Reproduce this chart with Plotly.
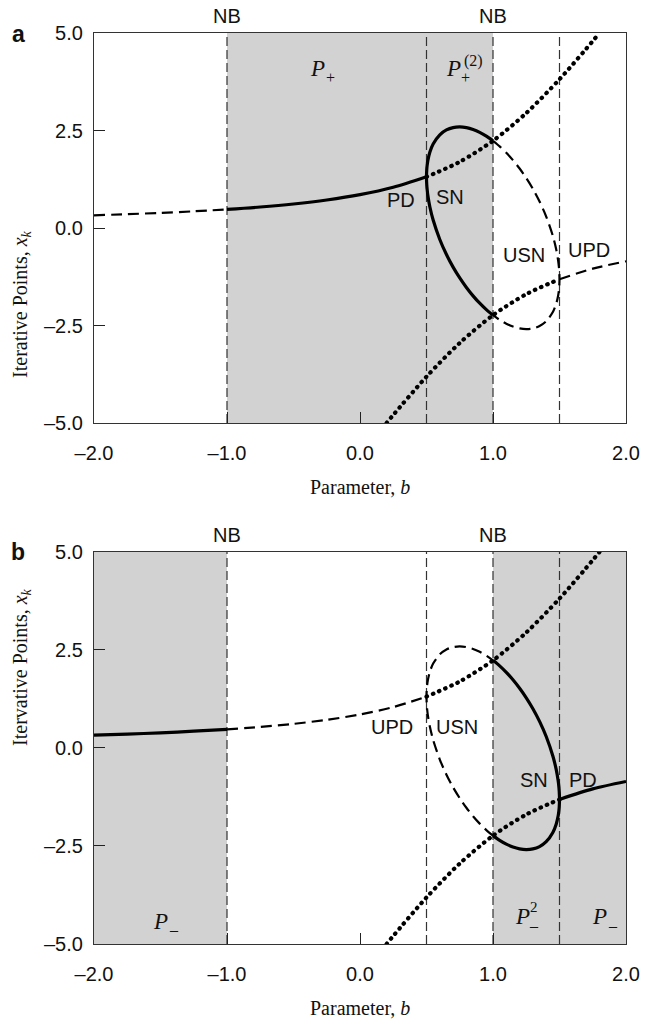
import plotly.graph_objects as go

# ---------------- data ----------------
# upper fixed-point branch
b_upper = [-2.0, -1.75, -1.5, -1.25, -1.0, -0.75, -0.5, -0.25, 0.0, 0.25, 0.5,
           0.75, 1.0, 1.25, 1.5, 1.75, 1.8]
x_upper = [0.326, 0.354, 0.388, 0.428, 0.477, 0.538, 0.616, 0.718, 0.854, 1.043, 1.312,
           1.697, 2.236, 2.947, 3.812, 4.793, 5.0]
# lower fixed-point branch
b_lower = [0.2, 0.25, 0.5, 0.75, 1.0, 1.25, 1.5, 1.75, 2.0]
x_lower = [-5.0, -4.793, -3.812, -2.947, -2.236, -1.697, -1.312, -1.043, -0.854]
# period-2 orbit, left half (b from 1 down to 0.5 and back)
b_orbit_left = [1.0, 0.95, 0.9, 0.85, 0.8, 0.75, 0.7, 0.65, 0.6, 0.55, 0.525, 0.51, 0.505, 0.502, 0.5,
                0.502, 0.505, 0.51, 0.525, 0.55, 0.6, 0.65, 0.7, 0.75, 0.8, 0.85, 0.9, 0.95, 1.0]
x_orbit_left = [-2.236, -2.094, -1.929, -1.740, -1.525, -1.281, -1.003, -0.680, -0.294, 0.204, 0.546, 0.839, 0.982, 1.105, 1.31,
                1.505, 1.612, 1.729, 1.943, 2.154, 2.390, 2.514, 2.575, 2.591, 2.573, 2.526, 2.453, 2.356, 2.236]
# period-2 orbit, right half
b_orbit_right = [1.0, 1.05, 1.1, 1.15, 1.2, 1.25, 1.3, 1.35, 1.4, 1.45, 1.475, 1.49, 1.495, 1.498, 1.5,
                 1.498, 1.495, 1.49, 1.475, 1.45, 1.4, 1.35, 1.3, 1.25, 1.2, 1.15, 1.1, 1.05, 1.0]
x_orbit_right = [2.236, 2.094, 1.929, 1.740, 1.525, 1.281, 1.003, 0.680, 0.294, -0.204, -0.546, -0.839, -0.982, -1.105, -1.31,
                 -1.505, -1.612, -1.729, -1.943, -2.154, -2.390, -2.514, -2.575, -2.591, -2.573, -2.526, -2.453, -2.356, -2.236]

bifurcation_b = [-1.0, 0.5, 1.0, 1.5]
nb_b = [-1.0, 1.0]
shaded_a = [(-1.0, 1.0)]
shaded_b = [(-2.0, -1.0), (1.0, 2.0)]
x_ticks = [-2.0, -1.0, 0.0, 1.0, 2.0]
y_ticks = [-5.0, -2.5, 0.0, 2.5, 5.0]

# ---------------- styles ----------------
SANS = "Liberation Sans, Arial, sans-serif"
SERIF = "Liberation Serif, Times New Roman, serif"
STY = {
    "solid": dict(color="black", width=3.2),
    "dash": dict(color="black", width=2.2, dash="11px,6px"),
    "dot": dict(color="black", width=4.2, dash="0.5px,6.2px"),
}


def seg(bs, xs, lo, hi):
    pts = [(b, x) for b, x in zip(bs, xs) if lo - 1e-9 <= b <= hi + 1e-9]
    return [p[0] for p in pts], [p[1] for p in pts]


fig = go.Figure()


def add(bs, xs, style, row):
    xa = "x" if row == 1 else "x2"
    ya = "y" if row == 1 else "y2"
    fig.add_trace(go.Scatter(x=bs, y=xs, mode="lines", line=dict(**STY[style], shape="spline", smoothing=0.8),
                             xaxis=xa, yaxis=ya, showlegend=False, hoverinfo="skip"))


# panel a
add(*seg(b_upper, x_upper, -2.0, -1.0), "dash", 1)
add(*seg(b_upper, x_upper, -1.0, 0.5), "solid", 1)
add(*seg(b_upper, x_upper, 0.5, 1.8), "dot", 1)
add(*seg(b_lower, x_lower, 0.2, 1.5), "dot", 1)
add(*seg(b_lower, x_lower, 1.5, 2.0), "dash", 1)
add(b_orbit_left, x_orbit_left, "solid", 1)
add(b_orbit_right, x_orbit_right, "dash", 1)
# panel b
add(*seg(b_upper, x_upper, -2.0, -1.0), "solid", 2)
add(*seg(b_upper, x_upper, -1.0, 0.5), "dash", 2)
add(*seg(b_upper, x_upper, 0.5, 1.8), "dot", 2)
add(*seg(b_lower, x_lower, 0.2, 1.5), "dot", 2)
add(*seg(b_lower, x_lower, 1.5, 2.0), "solid", 2)
add(b_orbit_left, x_orbit_left, "dash", 2)
add(b_orbit_right, x_orbit_right, "solid", 2)

shapes = []
for row, shaded in ((1, shaded_a), (2, shaded_b)):
    xr = "x" if row == 1 else "x2"
    yr = "y domain" if row == 1 else "y2 domain"
    for lo, hi in shaded:
        shapes.append(dict(type="rect", xref=xr, yref=yr, x0=lo, x1=hi, y0=0, y1=1,
                           fillcolor="#d2d2d2", line_width=0, layer="below"))
    for bv in bifurcation_b:
        shapes.append(dict(type="line", xref=xr, yref=yr, x0=bv, x1=bv, y0=0, y1=1,
                           line=dict(color="#333", width=1.2, dash="9px,4px"), layer="below"))

ann = []


def txt(row, x, y, text, size=20, font=SANS, **kw):
    ann.append(dict(xref="x" if row == 1 else "x2", yref="y" if row == 1 else "y2", x=x, y=y,
                    text=text, showarrow=False, font=dict(family=font, size=size, color="#111"), **kw))


def dom(row, x, y, text, size=20, font=SANS, **kw):
    ann.append(dict(xref="x" if row == 1 else "x2", yref="y domain" if row == 1 else "y2 domain", x=x, y=y,
                    text=text, showarrow=False, font=dict(family=font, size=size, color="#111"), **kw))


for row in (1, 2):
    for bv in nb_b:
        dom(row, bv, 1, "NB", size=20, yanchor="bottom", yshift=4)
    dom(row, 0.0, 0, "Parameter, <i>b</i>", size=20, font=SERIF, yanchor="middle", yshift=-64)

# panel a texts
txt(1, 0.31, 0.72, "PD", 20)
txt(1, 0.68, 0.80, "SN", 20)
txt(1, 1.23, -0.69, "USN", 20)
txt(1, 1.72, -0.56, "UPD", 20)
txt(1, -0.32, 4.1, "<i>P</i>", 23, SERIF)
txt(1, -0.225, 3.85, "+", 16, SERIF)
txt(1, 0.70, 4.1, "<i>P</i>", 23, SERIF)
txt(1, 0.855, 4.27, "(2)", 16, SERIF)
txt(1, 0.79, 3.85, "+", 16, SERIF)
# panel b texts
txt(2, 0.24, 0.54, "UPD", 20)
txt(2, 0.73, 0.54, "USN", 20)
txt(2, 1.31, -0.82, "SN", 20)
txt(2, 1.68, -0.82, "PD", 20)
txt(2, -1.50, -4.42, "<i>P</i>", 23, SERIF)
txt(2, -1.40, -4.62, "\u2013", 16, SERIF)
txt(2, 1.22, -4.31, "<i>P</i>", 23, SERIF)
txt(2, 1.31, -4.05, "2", 15, SERIF)
txt(2, 1.31, -4.52, "\u2013", 16, SERIF)
txt(2, 1.80, -4.31, "<i>P</i>", 23, SERIF)
txt(2, 1.90, -4.52, "\u2013", 16, SERIF)

# panel letters and y titles (paper coords)
ann.append(dict(xref="paper", yref="paper", x=-0.142, y=1.0, text="<b>a</b>", showarrow=False,
                font=dict(family=SANS, size=23, color="#111"), xanchor="center", yanchor="middle", yshift=-1))
ann.append(dict(xref="paper", yref="paper", x=-0.142, y=0.4303, text="<b>b</b>", showarrow=False,
                font=dict(family=SANS, size=23, color="#111"), xanchor="center", yanchor="middle"))
ann.append(dict(xref="paper", yref="paper", x=-0.142, y=(0.5719 + 1) / 2, xshift=-11,
                text="Iterative Points, <i>x<sub>k</sub></i>", textangle=-90, showarrow=False,
                font=dict(family=SERIF, size=20, color="#111")))
ann.append(dict(xref="paper", yref="paper", x=-0.142, y=0.4303 / 2, xshift=-11,
                text="Itervative Points, <i>x<sub>k</sub></i>", textangle=-90, showarrow=False,
                font=dict(family=SERIF, size=20, color="#111")))

xa = dict(range=[-2, 2], tickvals=x_ticks, ticktext=[f"{v:.1f}".replace("-", "\u2013") for v in x_ticks],
          ticks="inside", ticklen=11, tickcolor="#222", showline=True, mirror=True, linecolor="#333",
          linewidth=1.2, showgrid=False, zeroline=False, tickfont=dict(family=SANS, size=20, color="#111"),
          ticklabelstandoff=12)
ya = dict(range=[-5, 5], tickvals=y_ticks, ticktext=[f"{v:.1f}".replace("-", "\u2013") for v in y_ticks],
          ticks="inside", ticklen=11, tickcolor="#222", showline=True, mirror=True, linecolor="#333",
          linewidth=1.2, showgrid=False, zeroline=False, tickfont=dict(family=SANS, size=20, color="#111"),
          ticklabelstandoff=6)

fig.update_layout(
    width=652, height=1019,
    margin=dict(l=94, r=15, t=33, b=75),
    paper_bgcolor="white", plot_bgcolor="white",
    xaxis=dict(**xa, anchor="y", domain=[0, 1]),
    yaxis=dict(**ya, anchor="x", domain=[0.5719, 1]),
    xaxis2=dict(**xa, anchor="y2", domain=[0, 1]),
    yaxis2=dict(**ya, anchor="x2", domain=[0, 0.4303]),
    shapes=shapes, annotations=ann, showlegend=False,
)

round_dots = """
function roundDots(){
  document.querySelectorAll('.scatterlayer path.js-line').forEach(function(p){
    var d = (p.style.strokeDasharray || p.getAttribute('stroke-dasharray') || '');
    if (d.indexOf('0.5') === 0) { p.style.strokeLinecap = 'round'; }
  });
}
roundDots();
var gd = document.getElementsByClassName('plotly-graph-div')[0];
if (gd && gd.on) { gd.on('plotly_afterplot', roundDots); }
"""

fig.write_html("out.html", post_script=round_dots)
